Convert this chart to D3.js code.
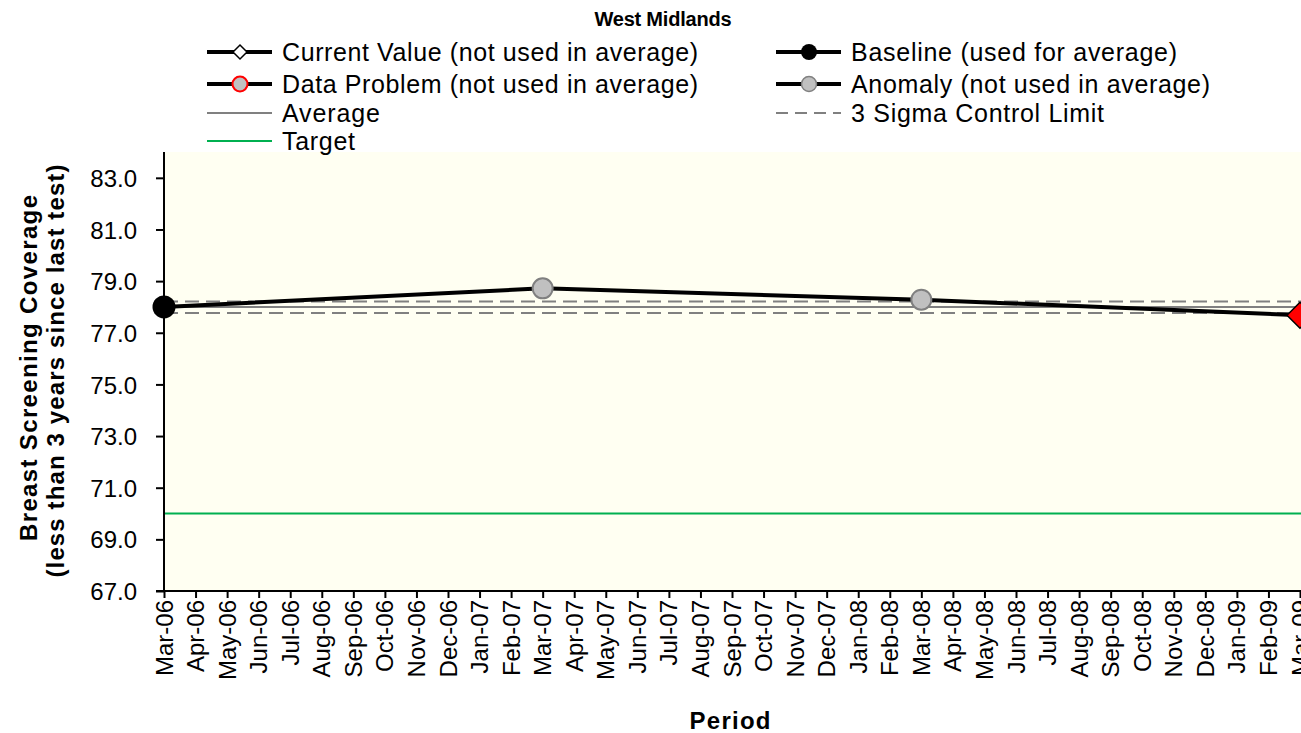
<!DOCTYPE html>
<html><head><meta charset="utf-8">
<script src="https://cdn.jsdelivr.net/npm/d3@7"></script>
<style>
body{margin:0;background:#fff;overflow:hidden}
svg{display:block;font-family:"Liberation Sans",Arial,sans-serif}
</style>
</head><body><svg id="c" width="1301" height="733"></svg>
<script>
// ---- data ----
const chartTitle = "West Midlands";
const periods = ["Mar-06","Apr-06","May-06","Jun-06","Jul-06","Aug-06","Sep-06","Oct-06","Nov-06","Dec-06","Jan-07","Feb-07",
  "Mar-07","Apr-07","May-07","Jun-07","Jul-07","Aug-07","Sep-07","Oct-07","Nov-07","Dec-07","Jan-08","Feb-08",
  "Mar-08","Apr-08","May-08","Jun-08","Jul-08","Aug-08","Sep-08","Oct-08","Nov-08","Dec-08","Jan-09","Feb-09","Mar-09"];
const pointPeriods = ["Mar-06","Mar-07","Mar-08","Mar-09"];
const pointValues = [78.0, 78.72, 78.28, 77.68];
const pointTypes = ["baseline","anomaly","anomaly","current"];
const averageValue = 78.0;
const upperLimit = 78.21;
const lowerLimit = 77.77;
const targetValue = 70.0;
const yTicks = [67,69,71,73,75,77,79,81,83];
const yDomain = [67,84];
const legendLabels = ["Current Value (not used in average)","Data Problem (not used in average)","Average","Target",
  "Baseline (used for average)","Anomaly (not used in average)","3 Sigma Control Limit"];
const yTitle1 = "Breast Screening Coverage";
const yTitle2 = "(less than 3 years since last test)";
const xTitle = "Period";

// ---- layout ----
const svg = d3.select("#c");
const L = 164, R = 1300, T = 152, B = 591;
const x = d3.scalePoint().domain(periods).range([L, R]);
const y = d3.scaleLinear().domain(yDomain).range([B, T]);

// plot background
svg.append("rect").attr("x", L).attr("y", T).attr("width", 1301 - L).attr("height", B - T).attr("fill", "#FFFFF2");

// reference lines
function hline(v, color, w, dash){
  svg.append("line").attr("x1", L).attr("x2", 1301).attr("y1", y(v)).attr("y2", y(v))
    .attr("stroke", color).attr("stroke-width", w).attr("stroke-dasharray", dash || null);
}
hline(targetValue, "#00B050", 2);
hline(upperLimit, "#808080", 2, "14,7");
hline(lowerLimit, "#808080", 2, "14,7");
hline(averageValue, "#808080", 2);

// data line
const pts = pointPeriods.map((p,i)=>({p, v: pointValues[i], t: pointTypes[i]}));
svg.append("path").datum(pts)
  .attr("d", d3.line().x(d=>x(d.p)).y(d=>y(d.v)))
  .attr("fill","none").attr("stroke","#000").attr("stroke-width",4);

// axes
const yAxis = svg.append("g").attr("transform", `translate(${L},0)`)
  .call(d3.axisLeft(y).tickValues(yTicks).tickFormat(d3.format(".1f")).tickSize(8).tickPadding(19));
yAxis.select(".domain").remove();
yAxis.selectAll(".tick line").attr("stroke","#000").attr("stroke-width",2);
yAxis.selectAll("text").attr("font-size",24).attr("fill","#000").attr("font-family","Liberation Sans, Arial, sans-serif")
  .attr("dy","0.36em");
svg.append("line").attr("x1",L).attr("x2",L).attr("y1",T).attr("y2",B+1).attr("stroke","#000").attr("stroke-width",2);

const xAxis = svg.append("g").attr("transform", `translate(0,${B})`)
  .call(d3.axisBottom(x).tickSize(7).tickFormat(""));
xAxis.select(".domain").remove();
xAxis.selectAll(".tick line").attr("stroke","#000").attr("stroke-width",2);
svg.append("line").attr("x1",L-8).attr("x2",1301).attr("y1",B).attr("y2",B).attr("stroke","#000").attr("stroke-width",2);
svg.append("g").selectAll("text").data(periods).join("text")
  .attr("transform", d=>`translate(${x(d)+8.5},600) rotate(-90)`)
  .attr("text-anchor","end").attr("font-size",24).attr("fill","#000")
  .text(d=>d);

// markers
const gM = svg.append("g");
pts.forEach(d=>{
  const cx = x(d.p), cy = y(d.v);
  if(d.t==="baseline"){
    gM.append("circle").attr("cx",cx).attr("cy",cy).attr("r",11.5).attr("fill","#000");
  } else if(d.t==="anomaly"){
    gM.append("circle").attr("cx",cx).attr("cy",cy).attr("r",10).attr("fill","#C0C0C0").attr("stroke","#808080").attr("stroke-width",2);
  } else {
    const s = 13;
    gM.append("path").attr("d",`M${cx-s},${cy}L${cx},${cy-s}L${cx+s},${cy}L${cx},${cy+s}Z`)
      .attr("fill","#FF0000").attr("stroke","#000").attr("stroke-width",1.5);
  }
});

// title
svg.append("text").attr("x",663).attr("y",26).attr("text-anchor","middle").attr("font-weight","bold")
  .attr("font-size",20).attr("textLength",137).attr("lengthAdjust","spacing").text(chartTitle);

// legend
const legendRows = [
  {col:0,row:0,type:"current"},{col:0,row:1,type:"problem"},{col:0,row:2,type:"avg"},{col:0,row:3,type:"target"},
  {col:1,row:0,type:"baseline"},{col:1,row:1,type:"anomaly"},{col:1,row:2,type:"sigma"}
];
const legendWidths = [416,416,98,73,326,359,253];
const colX = [207, 776];
const rowY = [52, 84, 113, 141];
const gL = svg.append("g");
legendRows.forEach((r,i)=>{
  const x0 = colX[r.col], yy = rowY[r.row], x1 = x0+65, xm = x0+33;
  let stroke="#000", sw=4, dash=null;
  if(r.type==="avg"){stroke="#808080"; sw=2;}
  if(r.type==="target"){stroke="#00B050"; sw=2;}
  if(r.type==="sigma"){stroke="#808080"; sw=2; dash="12,7";}
  gL.append("line").attr("x1",x0).attr("x2",x1).attr("y1",yy).attr("y2",yy)
    .attr("stroke",stroke).attr("stroke-width",sw).attr("stroke-dasharray",dash);
  if(r.type==="current"){
    const s=7;
    gL.append("path").attr("d",`M${xm-s},${yy}L${xm},${yy-s}L${xm+s},${yy}L${xm},${yy+s}Z`)
      .attr("fill","#fff").attr("stroke","#000").attr("stroke-width",1.5);
  } else if(r.type==="problem"){
    gL.append("circle").attr("cx",xm).attr("cy",yy).attr("r",7.5).attr("fill","#C0C0C0").attr("stroke","#FF0000").attr("stroke-width",2);
  } else if(r.type==="baseline"){
    gL.append("circle").attr("cx",xm).attr("cy",yy).attr("r",8).attr("fill","#000");
  } else if(r.type==="anomaly"){
    gL.append("circle").attr("cx",xm).attr("cy",yy).attr("r",7.5).attr("fill","#C0C0C0").attr("stroke","#808080").attr("stroke-width",1.5);
  }
  gL.append("text").attr("x",x1+10).attr("y",yy+8.5).attr("font-size",25)
    .attr("textLength",legendWidths[i]).attr("lengthAdjust","spacing").text(legendLabels[i]);
});

// axis titles
svg.append("text").attr("x",730).attr("y",729).attr("text-anchor","middle").attr("font-weight","bold")
  .attr("font-size",24).attr("textLength",81).attr("lengthAdjust","spacing").text(xTitle);
svg.append("text").attr("transform","translate(37,368) rotate(-90)").attr("text-anchor","middle")
  .attr("font-weight","bold").attr("font-size",24).attr("textLength",346).attr("lengthAdjust","spacing").text(yTitle1);
svg.append("text").attr("transform","translate(64,371) rotate(-90)").attr("text-anchor","middle")
  .attr("font-weight","bold").attr("font-size",24).attr("textLength",413).attr("lengthAdjust","spacing").text(yTitle2);
</script>
</body></html>
